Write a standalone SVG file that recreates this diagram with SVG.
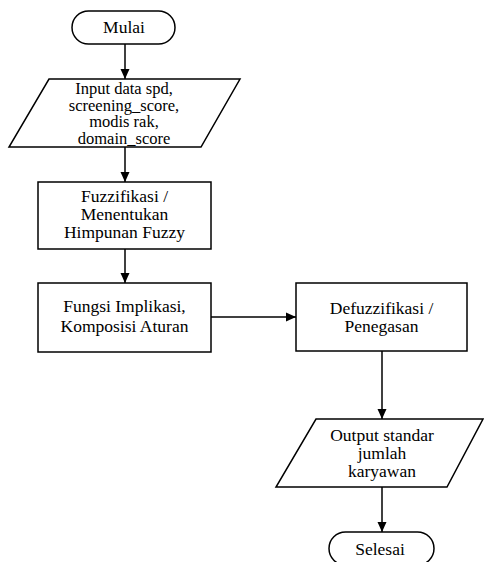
<svg xmlns="http://www.w3.org/2000/svg" width="484" height="562" viewBox="0 0 484 562">
<style>
.s{fill:#fff;stroke:#000;stroke-width:1.5}
.t{font-family:"Liberation Serif","Times New Roman",serif;font-size:17.5px;fill:#000;text-anchor:middle}
.t2{font-size:16.5px}
.c{fill:none;stroke:#000;stroke-width:1.5}
</style>
<defs>
<marker id="ah" viewBox="0 0 10 10" refX="10" refY="5" markerWidth="10" markerHeight="10" markerUnits="userSpaceOnUse" orient="auto">
<path d="M0,0.5 L10,5 L0,9.5 Z" fill="#000"/>
</marker>
</defs>
<rect width="484" height="562" fill="#fff"/>
<g id="connectors">
<line class="c" x1="125" y1="44" x2="125" y2="79" marker-end="url(#ah)"/>
<line class="c" x1="125" y1="147" x2="125" y2="182" marker-end="url(#ah)"/>
<line class="c" x1="125" y1="249" x2="125" y2="283" marker-end="url(#ah)"/>
<line class="c" x1="211" y1="317" x2="296" y2="317" marker-end="url(#ah)"/>
<line class="c" x1="382" y1="351" x2="382" y2="419" marker-end="url(#ah)"/>
<line class="c" x1="382" y1="487" x2="382" y2="532" marker-end="url(#ah)"/>
</g>
<g id="mulai">
<rect class="s" x="72" y="11" width="103" height="33" rx="16.5" ry="16.5"/>
<text class="t" x="124" y="33">Mulai</text>
</g>
<g id="input">
<polygon class="s" points="49,79 240,79 201,147 9,147"/>
<text class="t t2" x="124" y="94">Input data spd,</text>
<text class="t t2" x="124" y="110.7">screening_score,</text>
<text class="t t2" x="124" y="127.3">modis rak,</text>
<text class="t t2" x="124" y="144">domain_score</text>
</g>
<g id="fuzzifikasi">
<rect class="s" x="38" y="182" width="173" height="67"/>
<text class="t" x="124.5" y="202">Fuzzifikasi /</text>
<text class="t" x="124.5" y="220">Menentukan</text>
<text class="t" x="124.5" y="238">Himpunan Fuzzy</text>
</g>
<g id="implikasi">
<rect class="s" x="38" y="283" width="173" height="69"/>
<text class="t" x="124.5" y="312">Fungsi Implikasi,</text>
<text class="t" x="124.5" y="332">Komposisi Aturan</text>
</g>
<g id="defuzzifikasi">
<rect class="s" x="296" y="283" width="171" height="68"/>
<text class="t" x="381.5" y="314">Defuzzifikasi /</text>
<text class="t" x="381.5" y="331.5">Penegasan</text>
</g>
<g id="output">
<polygon class="s" points="316,419 483,419 447,487 276,487"/>
<text class="t" x="382" y="441">Output standar</text>
<text class="t" x="382" y="459">jumlah</text>
<text class="t" x="382" y="476.7">karyawan</text>
</g>
<g id="selesai">
<rect class="s" x="329" y="532" width="105" height="33" rx="16.5" ry="16.5"/>
<text class="t" x="380" y="555">Selesai</text>
</g>
</svg>
